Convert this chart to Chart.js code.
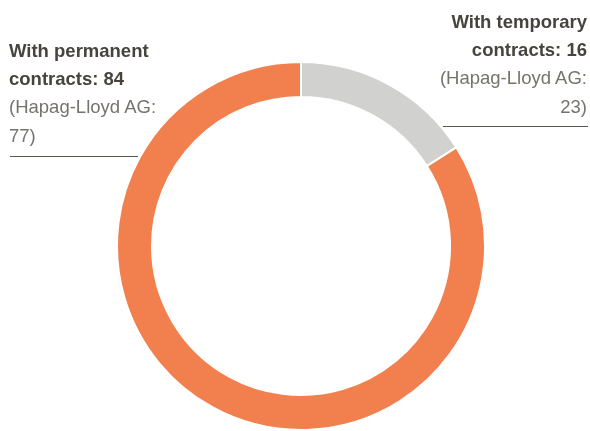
<!DOCTYPE html>
<html><head><meta charset="utf-8">
<script src="https://cdn.jsdelivr.net/npm/chart.js@4"></script>
<style>
html,body{margin:0;padding:0;background:#fff;}
#wrap{position:relative;width:590px;height:431px;overflow:hidden;}
#c{position:absolute;left:0;top:0;}
.lbl{position:absolute;font-family:"Liberation Sans",Arial,sans-serif;font-size:18.5px;line-height:28.4px;white-space:nowrap;}
.lbl b{color:#47433d;font-weight:bold;}
.lbl span{color:#77726b;}
.rule{position:absolute;height:1px;background:#5a5650;}
</style></head>
<body><div id="wrap"><canvas id="c" width="590" height="431"></canvas>
<div class="lbl" id="l1" style="left:9px;top:36.5px;text-align:left;"></div>
<div class="rule" style="left:10px;top:156px;width:128px;"></div>
<div class="lbl" id="l2" style="right:3px;top:7.5px;text-align:right;"></div>
<div class="rule" style="left:443px;top:126px;width:145px;"></div>
</div>
<script>
const categories = ["With temporary contracts", "With permanent contracts"];
const values = [16, 84];
const parentValues = [23, 77];
const colors = ["#D1D1CF", "#F2804F"];

document.getElementById('l1').innerHTML = '<b>With permanent<br>contracts: ' + values[1] + '</b><br><span>(Hapag-Lloyd AG:<br>' + parentValues[1] + ')</span>';
document.getElementById('l2').innerHTML = '<b>With temporary<br>contracts: ' + values[0] + '</b><br><span>(Hapag-Lloyd AG:<br>' + parentValues[0] + ')</span>';

new Chart(document.getElementById('c'), {
  type: 'doughnut',
  data: { labels: categories, datasets: [{ data: values, backgroundColor: colors, borderColor: '#ffffff', borderWidth: 2, hoverOffset: 0 }] },
  options: {
    responsive: false, animation: false, cutout: '81%',
    layout: { padding: { top: 61, bottom: 0, left: 116, right: 104 } },
    plugins: { legend: { display: false }, tooltip: { enabled: false } }
  }
});
</script></body></html>
